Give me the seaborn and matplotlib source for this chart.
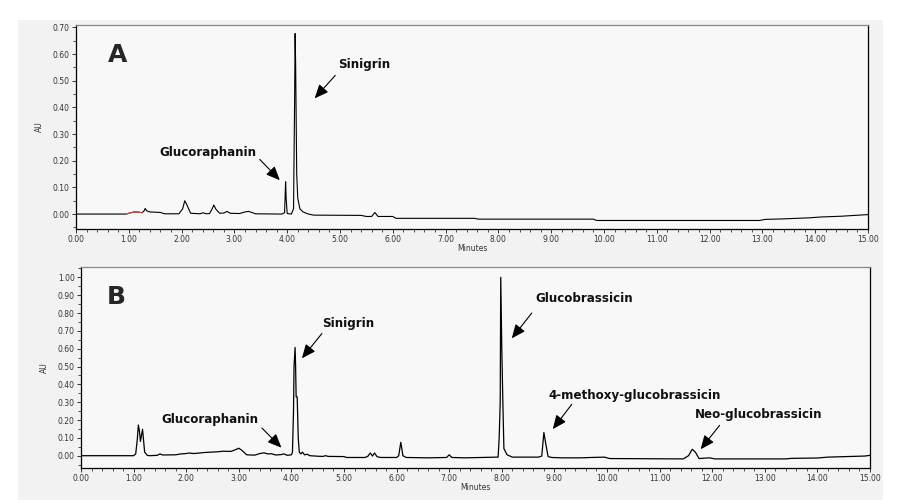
import numpy as np
import pandas as pd
import matplotlib
matplotlib.use("Agg")
import matplotlib.pyplot as plt
from matplotlib.patches import Rectangle
from matplotlib.ticker import MultipleLocator, FormatStrFormatter
import seaborn as sns

# Chromatogram A
a_time = [0.00, 0.95, 1.00, 1.10, 1.20, 1.25, 1.29, 1.31, 1.34, 1.40, 1.60, 1.68,
          1.95, 2.02, 2.06, 2.10, 2.17, 2.35, 2.41, 2.46, 2.53, 2.58, 2.61, 2.65,
          2.72, 2.80, 2.86, 2.92, 3.10, 3.20, 3.27, 3.33, 3.40, 3.90, 3.95, 3.97,
          3.98, 4.00, 4.08, 4.12, 4.14, 4.15, 4.16, 4.18, 4.20, 4.24, 4.30, 4.40,
          4.50, 5.40, 5.50, 5.60, 5.66, 5.72, 6.00, 6.06, 7.55, 7.62, 9.80, 9.86,
          12.95, 13.05, 13.40, 13.90, 14.10, 14.50, 15.00]
a_au = [0.000, 0.000, 0.003, 0.008, 0.007, 0.005, 0.012, 0.021, 0.012, 0.008, 0.006, 0.001,
        0.001, 0.020, 0.050, 0.035, 0.003, 0.001, 0.005, 0.001, 0.002, 0.020, 0.034, 0.018,
        0.003, 0.004, 0.010, 0.003, 0.002, 0.008, 0.010, 0.006, 0.001, 0.000, 0.005, 0.121,
        0.060, 0.002, 0.000, 0.020, 0.420, 0.677, 0.560, 0.150, 0.060, 0.020, 0.008, 0.000,
        -0.004, -0.005, -0.009, -0.009, 0.006, -0.009, -0.009, -0.016, -0.016, -0.019, -0.019, -0.024,
        -0.024, -0.020, -0.018, -0.014, -0.011, -0.008, -0.002]

# Chromatogram B
b_time = [0.00, 1.00, 1.04, 1.07, 1.09, 1.11, 1.13, 1.17, 1.21, 1.26, 1.30, 1.45,
          1.50, 1.55, 1.80, 1.90, 2.00, 2.05, 2.15, 2.35, 2.60, 2.70, 2.85, 2.95,
          3.00, 3.05, 3.15, 3.30, 3.40, 3.48, 3.55, 3.62, 3.70, 3.80, 3.86, 3.92,
          4.00, 4.02, 4.04, 4.05, 4.07, 4.08, 4.09, 4.11, 4.13, 4.15, 4.18, 4.21,
          4.25, 4.30, 4.35, 4.50, 4.60, 4.65, 4.70, 5.00, 5.05, 5.40, 5.45, 5.50,
          5.54, 5.58, 5.63, 5.70, 6.00, 6.04, 6.08, 6.12, 6.18, 6.60, 6.95, 7.00,
          7.05, 7.30, 7.93, 7.95, 7.97, 7.98, 8.00, 8.02, 8.04, 8.10, 8.20, 8.70,
          8.76, 8.80, 8.84, 8.88, 8.95, 9.15, 9.50, 9.70, 9.95, 10.05, 11.45, 11.55,
          11.62, 11.68, 11.75, 11.95, 12.05, 13.40, 13.50, 14.00, 14.20, 14.90, 15.00]
b_au = [0.000, 0.000, 0.010, 0.090, 0.172, 0.140, 0.080, 0.148, 0.020, 0.002, 0.000, 0.002,
        0.010, 0.004, 0.005, 0.010, 0.012, 0.015, 0.012, 0.018, 0.022, 0.025, 0.024, 0.035,
        0.042, 0.032, 0.005, 0.003, 0.012, 0.016, 0.010, 0.011, 0.004, 0.006, 0.010, 0.002,
        0.005, 0.020, 0.250, 0.500, 0.607, 0.500, 0.330, 0.330, 0.100, 0.020, 0.010, 0.020,
        0.005, 0.008, 0.000, -0.003, -0.004, 0.000, -0.004, -0.005, -0.010, -0.010, -0.004, 0.015,
        -0.002, 0.015, -0.006, -0.010, -0.010, 0.000, 0.075, 0.000, -0.010, -0.012, -0.010, 0.005,
        -0.010, -0.012, -0.008, 0.100, 0.300, 1.000, 0.600, 0.300, 0.040, 0.005, -0.008, -0.008,
        -0.002, 0.130, 0.060, -0.005, -0.010, -0.012, -0.012, -0.010, -0.008, -0.016, -0.018, 0.000,
        0.036, 0.020, -0.016, -0.012, -0.018, -0.018, -0.015, -0.013, -0.008, -0.002, 0.002]

# peak labels: (text, text x, text y, arrow start, arrow tip)
a_labels = ["Sinigrin", "Glucoraphanin"]
a_text_xy = [(4.96, 0.559), (1.57, 0.232)]
a_arrow_from = [(4.91, 0.52), (3.48, 0.205)]
a_arrow_to = [(4.52, 0.434), (3.86, 0.127)]

b_labels = ["Sinigrin", "Glucoraphanin", "Glucobrassicin", "4-methoxy-glucobrassicin",
            "Neo-glucobrassicin"]
b_text_xy = [(4.58, 0.742), (1.52, 0.204), (8.63, 0.882), (8.88, 0.34), (11.67, 0.232)]
b_arrow_from = [(4.58, 0.685), (3.44, 0.155), (8.57, 0.80), (9.33, 0.288), (12.14, 0.17)]
b_arrow_to = [(4.20, 0.546), (3.81, 0.045), (8.19, 0.658), (8.97, 0.149), (11.78, 0.036)]

sns.set_theme(style="ticks")
plt.rcParams["font.family"] = ["DejaVu Sans"]

fig = plt.figure(figsize=(9.13, 5.04), dpi=100)
fig.patch.set_facecolor("white")
fig.patches.append(Rectangle((18 / 913, 4 / 504), 865 / 913, 480 / 504,
                             transform=fig.transFigure, facecolor="#f2f2f2",
                             edgecolor="none", zorder=-10))

ax_a = fig.add_axes([76 / 913, 1 - 229 / 504, 792 / 913, 204 / 504])
ax_b = fig.add_axes([81 / 913, 1 - 468 / 504, 789 / 913, 201 / 504])

df_a = pd.DataFrame({"Minutes": a_time, "AU": a_au})
df_b = pd.DataFrame({"Minutes": b_time, "AU": b_au})


def style_axis(ax, ymax_tick, ylim):
    ax.set_facecolor("#f8f8f8")
    ax.set_xlim(0, 15)
    ax.set_ylim(*ylim)
    ax.xaxis.set_major_locator(MultipleLocator(1))
    ax.xaxis.set_minor_locator(MultipleLocator(0.2))
    ax.set_yticks(np.arange(0, ymax_tick + 0.001, 0.1))
    ax.yaxis.set_minor_locator(MultipleLocator(0.05))
    ax.xaxis.set_major_formatter(FormatStrFormatter("%.2f"))
    ax.yaxis.set_major_formatter(FormatStrFormatter("%.2f"))
    ax.tick_params(axis="both", which="major", direction="out", length=3, width=0.7,
                   labelsize=5.5, colors="#333333", pad=1.5)
    ax.tick_params(axis="both", which="minor", direction="out", length=2, width=0.6,
                   colors="#333333")
    for side in ["left", "bottom", "right"]:
        ax.spines[side].set_visible(True)
        ax.spines[side].set_color("black")
        ax.spines[side].set_linewidth(0.9)
    ax.spines["top"].set_visible(True)
    ax.spines["top"].set_color("#888888")
    ax.spines["top"].set_linewidth(0.9)
    ax.set_xlabel("Minutes", fontsize=5.5, labelpad=0, color="#333333")
    ax.set_ylabel("AU", fontsize=5.5, labelpad=6, color="#333333")


sns.lineplot(data=df_a, x="Minutes", y="AU", ax=ax_a, color="black",
             linewidth=0.8, estimator=None)
red_a = df_a[(df_a["Minutes"] >= 0.95) & (df_a["Minutes"] <= 1.25)]
sns.lineplot(data=red_a, x="Minutes", y="AU", ax=ax_a, color="#d9534f",
             linewidth=0.8, estimator=None)
sns.lineplot(data=df_b, x="Minutes", y="AU", ax=ax_b, color="black",
             linewidth=0.9, estimator=None)

style_axis(ax_a, 0.70, (-0.056, 0.709))
style_axis(ax_b, 1.00, (-0.069, 1.058))

ax_a.text(0.78, 0.596, "A", fontsize=18, fontweight="heavy", ha="center", va="center")
ax_b.text(0.665, 0.891, "B", fontsize=18, fontweight="heavy", ha="center", va="center")

arrow_style = dict(arrowstyle="-|>,head_length=0.6,head_width=0.26", color="black",
                   lw=0.8, mutation_scale=14, shrinkA=0, shrinkB=0)

for ax, labels, txy, afrom, ato in [(ax_a, a_labels, a_text_xy, a_arrow_from, a_arrow_to),
                                     (ax_b, b_labels, b_text_xy, b_arrow_from, b_arrow_to)]:
    for lab, (tx, ty), p0, p1 in zip(labels, txy, afrom, ato):
        ax.text(tx, ty, lab, fontsize=8.6, fontweight="bold", ha="left", va="center",
                color="#111111")
        ax.annotate("", xy=p1, xytext=p0, arrowprops=arrow_style)

fig.savefig("out.png", dpi=100)
